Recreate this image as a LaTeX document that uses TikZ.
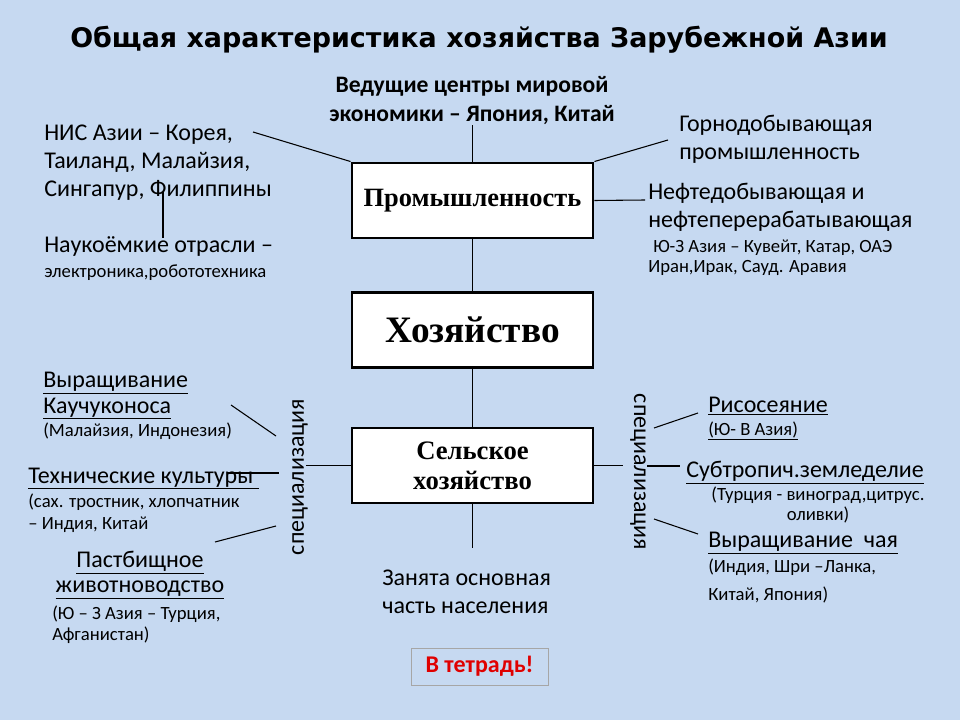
\documentclass[tikz,border=0pt]{standalone}
\usepackage{fontspec}
\setmainfont{Carlito}
\newfontfamily\boxfont{Liberation Serif}
\newfontfamily\headfont{DejaVu Sans}
\usepackage{tikz}
\definecolor{slidebg}{HTML}{C6D9F1}
\definecolor{notered}{HTML}{E00000}
\tikzset{
  sect/.style={draw,fill=white,line width=2.2pt,minimum width=180.75pt,minimum height=56.25pt,
    align=center,font=\boxfont\bfseries},
  big/.style={font=\fontsize{18}{21}\selectfont,align=left,inner sep=0pt},
  small/.style={font=\fontsize{14}{16.5}\selectfont,align=left,inner sep=0pt},
  link/.style={line width=0.8pt},
}
\tikzstyle{every node}=[anchor=base west]

\begin{document}
\begin{tikzpicture}[x=0.75pt,y=-0.75pt]
    \fill[slidebg] (0,0) rectangle (960,720);
    \useasboundingbox (0,0) rectangle (960,720);
    \node[anchor=base,font=\headfont\bfseries\fontsize{20.2}{22}\selectfont] (title) at (479,48)
      {Общая характеристика хозяйства Зарубежной Азии};
    \node[sect,anchor=center,font=\boxfont\bfseries\fontsize{19.8}{24}\selectfont] (prom) at (472.5,200.5) {Промышленность};
    \node[sect,anchor=center,font=\boxfont\bfseries\fontsize{28}{30}\selectfont] (xoz) at (472.5,330) {Хозяйство};
    \node[sect,anchor=center,font=\boxfont\bfseries\fontsize{20}{22.5}\selectfont] (sel) at (472.5,465.5) {Сельское\\хозяйство};
    \node[big,anchor=base,align=center,font=\bfseries\fontsize{17.7}{22}\selectfont] (ved) at (472,122)
      {Ведущие центры мировой\\экономики – Япония, Китай};
    % промышленность
    \node[big] (nis) at (44,197) {НИС Азии – Корея,\\Таиланд, Малайзия,\\Сингапур, Филиппины};
    \node[big] (nauk) at (44,253) {Наукоёмкие отрасли –};
    \node[small] (elek) at (44,278) {электроника,робототехника};
    \node[big] (gorn) at (679,160) {Горнодобывающая\\промышленность};
    \node[big] (neft) at (648,228) {Нефтедобывающая и\\нефтеперерабатывающая};
    \node[small] (kuv) at (653,253) {Ю-З Азия – Кувейт, Катар, ОАЭ};
    \node[small] (iran) at (648,273) {Иран,Ирак, Сауд. Аравия};
    % сельское хозяйство
    \node[big,rotate=90,anchor=center] (specL) at (300,477) {специализация};
    \node[big,rotate=-90,anchor=center] (specR) at (638,472) {специализация};
    \node[big,font=\fontsize{18}{19.5}\selectfont] (kauch) at (43,413) {\underline{Выращивание}\\\underline{Каучуконоса}};
    \node[small] (malay) at (43,436) {(Малайзия, Индонезия)};
    \node[big] (tech) at (28,483) {\underline{Технические культуры\ }};
    \node[small] (sax) at (28,529) {(сах. тростник, хлопчатник\\– Индия, Китай};
    \node[big,anchor=base,align=center,font=\fontsize{18}{18.75}\selectfont] (past) at (140,592) {\underline{Пастбищное}\\\underline{животноводство}};
    \node[small,font=\fontsize{14}{15.5}\selectfont] (turc) at (52,640) {(Ю – З Азия – Турция,\\Афганистан)};
    \node[big] (ris) at (708,412) {\underline{Рисосеяние}};
    \node[small] (risA) at (708,435) {\underline{(Ю- В Азия)}};
    \node[big] (subtr) at (686,477) {\underline{Субтропич.земледелие}};
    \node[small,anchor=base,align=center,font=\fontsize{14}{15}\selectfont] (vino) at (818,520) {(Турция - виноград,цитрус.\\оливки)};
    \node[big] (chai) at (708,547) {\underline{Выращивание\ \ чая}};
    \node[small,font=\fontsize{14}{21}\selectfont] (indi) at (708,600) {(Индия, Шри –Ланка,\\Китай, Япония)};
    \node[big] (zan) at (382,613) {Занята основная\\часть населения};
    \node[draw=gray!70,line width=0.6pt,anchor=center,minimum width=102.75pt,minimum height=27.75pt,
      text=notered,font=\bfseries\fontsize{18}{20}\selectfont] (tetr) at (479.5,666.5) {В тетрадь!};
    % связи
    \coordinate (nisE) at (253,132);
    \coordinate (nisS) at (163,192);
    \coordinate (naukN) at (163,238);
    \coordinate (gornW) at (668,140);
    \coordinate (neftW) at (645,200);
    \coordinate (selB) at (472.5,548);
    \draw[link] (prom.north) -- (prom.north |- ved.south);
    \draw[link] (prom.south) -- (xoz.north);
    \draw[link] (xoz.south) -- (sel.north);
    \draw[link] (sel.south) -- (selB);
    \draw[link] (nisE) -- (prom.north west);
    \draw[link] (nisS) -- (naukN);
    \draw[link] (prom.north east) -- (gornW);
    \draw[link] (prom.east) -- (neftW);
    \draw[link] (sel.west) -- (306,465.5) coordinate (specLE);
    \draw[link] (sel.east) -- (623,465.5) coordinate (specRW);
    \draw[link] (231,405) coordinate (kauchE) -- (276,436) coordinate (kauchS);
    \draw[link] (227,473) coordinate (techE) -- (279,473) coordinate (techS);
    \draw[link] (215,542) coordinate (pastE) -- (276,526) coordinate (pastS);
    \draw[link] (647,466) coordinate (subS) -- (680,466) coordinate (subW);
    \draw[link] (654,428) coordinate (risS) -- (698,413) coordinate (risW);
    \draw[link] (654,519) coordinate (chaiS) -- (698,534) coordinate (chaiW);
\end{tikzpicture}
\end{document}
